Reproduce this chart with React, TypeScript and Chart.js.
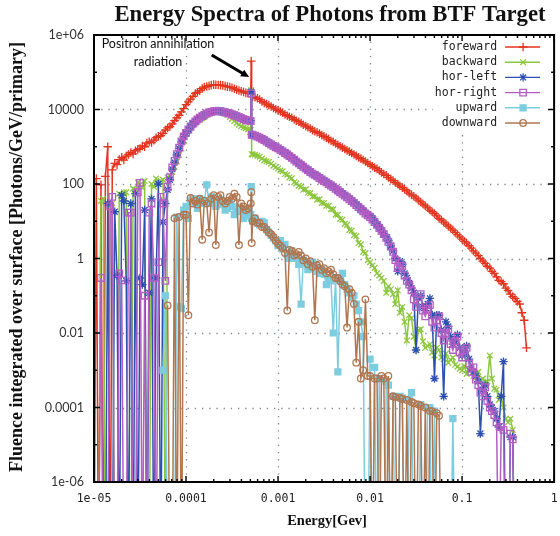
import { useEffect, useRef } from 'react';
import { Chart, registerables } from 'chart.js';
import { drawPoint } from 'chart.js/helpers';

Chart.register(...registerables);

// Energy bins [GeV], 40 per decade, with three narrow bins on the 511 keV annihilation line.
const energyGeV = [
  1.00e-5, 1.06e-5, 1.12e-5, 1.19e-5, 1.26e-5, 1.33e-5, 1.41e-5, 1.50e-5, 1.58e-5, 1.68e-5,
  1.78e-5, 1.88e-5, 2.00e-5, 2.11e-5, 2.24e-5, 2.37e-5, 2.51e-5, 2.66e-5, 2.82e-5, 2.99e-5,
  3.16e-5, 3.35e-5, 3.55e-5, 3.76e-5, 3.98e-5, 4.22e-5, 4.47e-5, 4.73e-5, 5.01e-5, 5.31e-5,
  5.62e-5, 5.96e-5, 6.31e-5, 6.68e-5, 7.08e-5, 7.50e-5, 7.94e-5, 8.41e-5, 8.91e-5, 9.44e-5,
  1.00e-4, 1.06e-4, 1.12e-4, 1.19e-4, 1.26e-4, 1.33e-4, 1.41e-4, 1.50e-4, 1.58e-4, 1.68e-4,
  1.78e-4, 1.88e-4, 2.00e-4, 2.11e-4, 2.24e-4, 2.37e-4, 2.51e-4, 2.66e-4, 2.82e-4, 2.99e-4,
  3.16e-4, 3.35e-4, 3.55e-4, 3.76e-4, 3.98e-4, 4.22e-4, 4.47e-4, 4.73e-4, 5.05e-4, 5.11e-4, 5.17e-4,
  5.31e-4, 5.62e-4, 5.96e-4, 6.31e-4, 6.68e-4, 7.08e-4, 7.50e-4, 7.94e-4, 8.41e-4, 8.91e-4, 9.44e-4,
  1.00e-3, 1.06e-3, 1.12e-3, 1.19e-3, 1.26e-3, 1.33e-3, 1.41e-3, 1.50e-3, 1.58e-3, 1.68e-3,
  1.78e-3, 1.88e-3, 2.00e-3, 2.11e-3, 2.24e-3, 2.37e-3, 2.51e-3, 2.66e-3, 2.82e-3, 2.99e-3,
  3.16e-3, 3.35e-3, 3.55e-3, 3.76e-3, 3.98e-3, 4.22e-3, 4.47e-3, 4.73e-3, 5.01e-3, 5.31e-3,
  5.62e-3, 5.96e-3, 6.31e-3, 6.68e-3, 7.08e-3, 7.50e-3, 7.94e-3, 8.41e-3, 8.91e-3, 9.44e-3,
  1.00e-2, 1.06e-2, 1.12e-2, 1.19e-2, 1.26e-2, 1.33e-2, 1.41e-2, 1.50e-2, 1.58e-2, 1.68e-2,
  1.78e-2, 1.88e-2, 2.00e-2, 2.11e-2, 2.24e-2, 2.37e-2, 2.51e-2, 2.66e-2, 2.82e-2, 2.99e-2,
  3.16e-2, 3.35e-2, 3.55e-2, 3.76e-2, 3.98e-2, 4.22e-2, 4.47e-2, 4.73e-2, 5.01e-2, 5.31e-2,
  5.62e-2, 5.96e-2, 6.31e-2, 6.68e-2, 7.08e-2, 7.50e-2, 7.94e-2, 8.41e-2, 8.91e-2, 9.44e-2,
  1.00e-1, 1.06e-1, 1.12e-1, 1.19e-1, 1.26e-1, 1.33e-1, 1.41e-1, 1.50e-1, 1.58e-1, 1.68e-1,
  1.78e-1, 1.88e-1, 2.00e-1, 2.11e-1, 2.24e-1, 2.37e-1, 2.51e-1, 2.66e-1, 2.82e-1, 2.99e-1,
  3.16e-1, 3.35e-1, 3.55e-1, 3.76e-1, 3.98e-1, 4.22e-1, 4.47e-1, 4.73e-1, 5.01e-1,
];

// Fluence per bin [Photons/GeV/primary]; 0 = empty bin, null = not scored.
const forewardFlux = [
  0, 140, 0, 95, 0, 160, 1000, 0, 240, 360, 330, 450, 520, 440, 560, 620, 700, 640, 780, 850,
  900, 1050, 1000, 1250, 1350, 1300, 1500, 1750, 1900, 2000, 2300, 2800, 3200, 3500, 4100, 5000, 6000, 7000, 8600, 10500,
  13500, 16000, 19000, 22500, 27000, 29000, 32000, 36500, 40000, 41500, 43000, 45000, 46500, 46000, 45500, 45000, 44500, 42500, 41000, 40000,
  38500, 36000, 34000, 32500, 31000, 29500, 28000, 27200, 26500, 200000, 22500,
  22000, 21500, 20000, 18500, 16500, 15000, 14000, 13200, 12000, 11000, 10200,
  9500, 8800, 8200, 7400, 6800, 6400, 6000, 5400, 5000, 4700, 4300, 3900, 3600, 3350, 3100, 2800, 2600, 2450, 2250, 2050,
  1900, 1750, 1600, 1450, 1350, 1220, 1120, 1030, 950, 870, 800, 740, 680, 620, 570, 520, 480, 440, 400, 365,
  330, 300, 275, 255, 230, 205, 185, 170, 150, 135, 123, 110, 100, 88, 80, 72, 65, 57, 51, 47,
  42, 37, 33, 29, 26, 23, 20, 18, 16, 14, 12, 10.8, 9.5, 8.4, 7.4, 6.5, 5.8, 5.0, 4.4, 3.8,
  3.3, 2.9, 2.6, 2.2, 1.9, 1.6, 1.4, 1.2, 1.0, 0.85, 0.74, 0.62, 0.55, 0.45, 0.4, 0.32, 0.26, 0.24, 0.21, 0.16,
  0.14, 0.11, 0.095, 0.085, 0.07, 0.06, 0.035, 0.022, 0.004,
];

const backwardFlux = [
  0, 0, 0, 35, 40, 0, 0, 28, 30, 0, 0, 55, 45, 60, 60, 0, 0, 75, 70, 110,
  95, 80, 120, 0, 0, 100, 85, 140, 110, 120, 130, 0, 150, 170, 210, 290, 400, 600, 900, 1400,
  2200, 2700, 3200, 3800, 4200, 4700, 5200, 5900, 6300, 7200, 7900, 8600, 9100, 9500, 9300, 8900, 8500, 7700, 7100, 6300,
  5600, 4900, 4300, 3900, 3550, 3300, 3150, 2950, 2800, 33000, 630,
  620, 610, 570, 540, 480, 430, 410, 390, 350, 310, 285,
  260, 230, 220, 185, 178, 150, 142, 112, 104, 90, 85, 70, 72, 58, 57, 46, 47, 38, 39, 31,
  31, 26, 26, 21, 21, 15, 15, 11.5, 11, 8.5, 8, 5.8, 5.6, 4.2, 4.0, 2.6, 2.4, 1.5, 1.4, 0.9,
  0.8, 0.65, 0.56, 0.4, 0.35, 0.3, 0.25, 0.12, 0.18, 0.15, 0.11, 0.06, 0.14, 0.035, 0.05, 0.02, 0.0063, 0.03, 0.025, 0.008,
  0.0035, 0.012, 0.0125, 0.006, 0.004, 0.0045, 0.005, 0.003, 0.0025, 0.004, 0.0035, 0.0022, 0.002, 0.0028, 0.0016, 0.0019, 0.0022, 0.0014, 0.00125, 0.0011,
  0.001, 0.0013, 0.0008, 0.0011, 0.00125, 0.0007, 0.00063, 0.0009, 0.0005, 0.0006, 0.0004, 0.0005, 0.0025, 0.0006, 0.00032, 0.0003, 0.00016, 0.0002, 0.0001, 0.00005,
  0.00004, 0.00005, 0.000025, 0, 0, null, null, null, null,
];

const horLeftFlux = [
  0, 0, 0, 0, 0, 0, 30, 0, 0, 18, 0.35, 0, 50, 35, 0.25, 0, 30, 0, 55, 0,
  0.3, 0.2, 20, 0, 0.12, 40, 0, 0.3, 100, 0, 9.5, 30, 70, 130, 250, 380, 600, 900, 1350, 1900,
  2300, 2900, 3450, 4100, 4750, 5400, 6000, 6700, 7300, 7900, 8400, 8700, 9000, 9100, 9100, 9000, 8800, 8500, 8200, 7900,
  7500, 7100, 6700, 6300, 6000, 5600, 5300, 5150, 5000, 30000, 2150,
  2100, 2050, 1900, 1780, 1650, 1530, 1400, 1280, 1170, 1070, 990,
  920, 840, 770, 700, 640, 570, 510, 460, 410, 370, 330, 295, 265, 240, 215, 195, 180, 165, 150, 137,
  125, 114, 104, 94, 85, 77, 70, 63, 56, 51, 46, 41, 36, 32, 28, 25, 22, 19.5, 17, 15.5,
  14, 12, 10, 8.3, 7, 5.8, 4.6, 3.8, 3.0, 2.2, 1.6, 1.0, 0.45, 0.85, 0.7, 0.4, 0.3, 0.22, 0.16, 0.12,
  0.0035, 0.09, 0.1, 0.05, 0.04, 0.06, 0.085, 0.03, 0.0006, 0.03, 0.03, 0.012, 0.0002, 0.02, 0.015, 0.008, 0.005, 0.006, 0.009, 0.004,
  0.0025, 0.003, 0.0045, 0.002, 0.0011, 0.0009, 0.0007, 0.0005, 0.00002, 0.0003, 0.0004, 0.0002, 0.00012, 0.0001, 0.00008, 0.00005, 0.00003, 0.0002, 0.0017, 0,
  0, 0.000016, 0.000016, 0, 0, null, null, null, null,
];

const horRightFlux = [
  0, 0, 0, 0.3, 0, 0, 0, 25, 45, 0, 0, 0.4, 0.26, 0, 0, 17, 17, 0, 0, 60,
  107, 0, 0.1, 0, 17, 30, 0.3, 0, 0.8, 45, 30, 0.25, 85, 150, 280, 420, 630, 950, 1400, 1900,
  2350, 2900, 3500, 4200, 4800, 5400, 6000, 6600, 7200, 7800, 8300, 8600, 8900, 9000, 9000, 8900, 8700, 8400, 8100, 7800,
  7400, 7000, 6600, 6200, 5900, 5500, 5200, 5050, 4900, 27000, 2100,
  2050, 2000, 1870, 1750, 1620, 1500, 1370, 1250, 1150, 1050, 970,
  900, 820, 750, 680, 620, 560, 500, 450, 400, 360, 320, 290, 260, 235, 210, 190, 175, 160, 145, 132,
  120, 110, 100, 91, 82, 74, 67, 60, 54, 49, 44, 39, 35, 31, 27, 24, 21, 18.5, 16, 14.5,
  13, 11, 9.5, 8, 6.5, 5.5, 4.5, 3.6, 2.8, 2.1, 1.5, 0.9, 0.55, 0.75, 0.63, 0.35, 0.25, 0.2, 0.14, 0.08,
  0.05, 0.09, 0.11, 0.04, 0.028, 0.045, 0.056, 0.02, 0.014, 0.022, 0.028, 0.01, 0.0063, 0.01, 0.0125, 0.005, 0.0035, 0.006, 0.008, 0.003,
  0.0022, 0.0035, 0.004, 0.0015, 0.0009, 0.0012, 0.00056, 0.0004, 0.00025, 0.0002, 0.00035, 0.00015, 0.0001, 0.00008, 0.000063, 0.00004, 0, 0.00003, 0.000025, 0,
  0, 0.00002, 0.000014, 0, 0, null, null, null, null,
];

const upwardFlux = [
  null, null, null, null, null, null, null, null, null, null, null, null, null, null, null, null, null, null, null, null,
  null, null, null, null, null, null, null, null, null, null, 0.001, 0.1, 0, 0, 0, 0, 13, 0.05, 0.045, 20,
  25, 12, 35, 40, 30, 22, 40, 30, 35, 95, 30, 45, 35, 25, 28, 38, 32, 20, 22, 30,
  25, 15, 18, 24, 20, 12, 14, 18, 15, 85, 12,
  10, 12, 9, 8, 10, 9, 6, 5, 4.2, 3.5, 3.0,
  2.2, 3.0, 1.8, 2.4, 1.3, 1.0, 1.6, 1.1, 1.0, 0.7, 0.06, 0.9, 0.75, 0.5, 0.55, 0.8, 0.7, 0.45, 0.4, 0.5,
  0.38, 0.2, 0.3, 0.25, 0.01, 0.3, 0.0009, 0.25, 0.4, 0.2, 0.15, 0.12, 0.09, 0.1, 0.06, 0.04, 0.02, 0.008, 0, 0,
  0.002, 0, 0.0012, 0, 0.0006, 0, 0, 0.0005, 0.0004, 0, 0.0002, 0, 0, 0.0002, 0.00018, 0, 0, 0.00016, 0.00025, 0,
  0, 0, 0.00012, 0, 0, 0.0001, 0.0001, 0, 0.00008, 0, 0, 0, 0, 0, 0, 0, 0.00005, 0, null, null,
  null, null, null, null, null, null, null, null, null, null, null, null, null, null, null, null, null, null, null, null,
  null, null, null, null, null, null, null, null, null,
];

const downwardFlux = [
  null, null, null, null, null, null, null, null, null, null, null, null, null, null, null, null, null, null, null, null,
  null, null, null, null, null, null, null, null, null, null, null, null, 0.055, 0, 0, 12, 0, 13, 0, 15,
  15, 0.03, 42, 30, 35, 28, 40, 3.2, 35, 30, 5, 40, 50, 2.3, 45, 50, 35, 30, 35, 45,
  40, 55, 45, 2.3, 30, 25, 20, 22, 30, 60, 2.6,
  10, 12, 9, 9, 7, 7, 6, 5, 4.5, 3.8, 3.0,
  2.5, 2.2, 1.9, 1.4, 0.04, 1.7, 1.6, 1.2, 1.3, 1.5, 1.2, 0.9, 1.0, 0.7, 0.85, 0.6, 0.022, 0.65, 0.7, 0.5,
  0.55, 0.4, 0.45, 0.5, 0.38, 0.3, 0.3, 0.25, 0.2, 0.18, 0.014, 0.15, 0.12, 0.06, 0.0016, 0.02, 0.0006, 0.001, 0.08, 0.0007,
  0.0007, 0, 0.0006, 0.0006, 0, 0.0007, 0.0006, 0, 0.0007, 0, 0.0002, 0.00019, 0, 0.00018, 0.00017, 0, 0.00016, 0, 0.00014, 0.00013,
  0, 0.00012, 0.00011, 0, 0.0001, 0, 0.00008, 0.00008, 0, 0.00007, 0.00006, 0, null, null, null, null, null, null, null, null,
  null, null, null, null, null, null, null, null, null, null, null, null, null, null, null, null, null, null, null, null,
  null, null, null, null, null, null, null, null, null,
];

const xTickValues = [1e-5, 1e-4, 1e-3, 1e-2, 1e-1, 1];
const xTickLabels = ['1e-05', '0.0001', '0.001', '0.01', '0.1', '1'];
const yTickValues = [1e-6, 1e-4, 1e-2, 1, 100, 1e4, 1e6];
const yTickLabels = ['1e-06', '0.0001', '0.01', '1', '100', '10000', '1e+06'];

const chartTitle = 'Energy Spectra of Photons from BTF Target';
const xTitle = 'Energy[Gev]';
const yTitle = 'Fluence integrated over surface [Photons/GeV/primary]';
const noteLines = ['Positron annihilation', 'radiation'];

// Series appearance (gnuplot-like line + point styles)
const seriesStyles = [
  { label: 'foreward', values: forewardFlux, color: '#e3341f', pointStyle: 'cross', radius: 4.3, fill: 'transparent' },
  { label: 'backward', values: backwardFlux, color: '#8cc63f', pointStyle: 'crossRot', radius: 4, fill: 'transparent' },
  { label: 'hor-left', values: horLeftFlux, color: '#2d50b0', pointStyle: 'star', radius: 4.2, fill: 'transparent' },
  { label: 'hor-right', values: horRightFlux, color: '#b25fc4', pointStyle: 'rect', radius: 4.6, fill: 'transparent' },
  { label: 'upward', values: upwardFlux, color: '#7ccde0', pointStyle: 'rect', radius: 4.2, fill: '#7ccde0' },
  { label: 'downward', values: downwardFlux, color: '#b07650', pointStyle: 'circle', radius: 3.3, fill: 'transparent' },
];

// Empty bins are sent below the axis floor so their lines drop out of the frame.
const BELOW_FLOOR = 1e-9;

const toPoints = (values: (number | null)[]) =>
  values.map((v, i) => ({ x: energyGeV[i], y: v === null ? null : v === 0 ? BELOW_FLOOR : v }));

const framePlugin = {
  id: 'gnuplotFrame',
  beforeDatasetsDraw(chart: any) {
    const { ctx, chartArea: a, scales } = chart;
    const xs = scales.x;
    const ys = scales.y;
    ctx.save();
    ctx.strokeStyle = '#7d8796';
    ctx.lineWidth = 1.3;
    ctx.setLineDash([1.3, 5.9]);
    xTickValues.forEach((v) => {
      const px = Math.round(xs.getPixelForValue(v)) + 0.5;
      if (px <= a.left + 2 || px >= a.right - 2) return;
      ctx.beginPath();
      ctx.moveTo(px, a.bottom);
      ctx.lineTo(px, a.top);
      ctx.stroke();
    });
    yTickValues.forEach((v) => {
      const py = Math.round(ys.getPixelForValue(v)) + 0.5;
      if (py <= a.top + 2 || py >= a.bottom - 2) return;
      ctx.beginPath();
      ctx.moveTo(a.left, py);
      ctx.lineTo(a.right, py);
      ctx.stroke();
    });
    ctx.restore();
  },
  afterDatasetsDraw(chart: any) {
    const { ctx, chartArea: a, scales } = chart;
    const xs = scales.x;
    const ys = scales.y;
    ctx.save();

    // key box
    const keyLeft = a.right - 121;
    const keyTop = a.top + 2;
    ctx.fillStyle = '#ffffff';
    ctx.fillRect(keyLeft, keyTop, a.right - 2 - keyLeft, 98);
    ctx.font = '11.5px "DejaVu Sans Mono", monospace';
    ctx.textAlign = 'right';
    ctx.textBaseline = 'middle';
    seriesStyles.forEach((s, i) => {
      const y = a.top + 12 + i * 15.2;
      ctx.fillStyle = '#222';
      ctx.fillText(s.label, a.right - 57, y);
      ctx.strokeStyle = s.color;
      ctx.lineWidth = 1.4;
      ctx.beginPath();
      ctx.moveTo(a.right - 49, y);
      ctx.lineTo(a.right - 14, y);
      ctx.stroke();
      ctx.fillStyle = s.fill;
      ctx.lineWidth = 1.3;
      drawPoint(ctx, { pointStyle: s.pointStyle, radius: s.radius, rotation: 0, borderWidth: 1.3 } as any, a.right - 31, y);
    });

    // frame
    ctx.strokeStyle = '#000';
    ctx.lineWidth = 2;
    ctx.strokeRect(a.left, a.top, a.right - a.left, a.bottom - a.top);

    // tick marks (mirrored, inward)
    ctx.lineWidth = 1.4;
    const major = 6;
    const minor = 3;
    for (let e = -5; e <= 0; e++) {
      for (let m = 1; m <= 9; m++) {
        const v = m * Math.pow(10, e);
        if (v > 1) break;
        const px = xs.getPixelForValue(v);
        const len = m === 1 ? major : minor;
        ctx.beginPath();
        ctx.moveTo(px, a.bottom);
        ctx.lineTo(px, a.bottom - len);
        ctx.moveTo(px, a.top);
        ctx.lineTo(px, a.top + len);
        ctx.stroke();
      }
    }
    for (let e = -6; e <= 6; e++) {
      const py = ys.getPixelForValue(Math.pow(10, e));
      const len = e % 2 === 0 ? major : minor;
      ctx.beginPath();
      ctx.moveTo(a.left, py);
      ctx.lineTo(a.left + len, py);
      ctx.moveTo(a.right, py);
      ctx.lineTo(a.right - len, py);
      ctx.stroke();
    }

    // annihilation-line note with arrow
    ctx.fillStyle = '#111';
    ctx.textAlign = 'center';
    ctx.font = '12.5px Lato, sans-serif';
    ctx.fillText(noteLines[0], a.left + 64, a.top + 9);
    ctx.fillText(noteLines[1], a.left + 64, a.top + 27);
    const tailX = xs.getPixelForValue(1.9e-4);
    const tailY = ys.getPixelForValue(2.9e5);
    const tipX = xs.getPixelForValue(4.85e-4);
    const tipY = ys.getPixelForValue(7.4e4);
    const ang = Math.atan2(tipY - tailY, tipX - tailX);
    const head = 9;
    ctx.strokeStyle = '#000';
    ctx.lineWidth = 3;
    ctx.beginPath();
    ctx.moveTo(tailX, tailY);
    ctx.lineTo(tipX - Math.cos(ang) * head * 0.8, tipY - Math.sin(ang) * head * 0.8);
    ctx.stroke();
    ctx.fillStyle = '#000';
    ctx.beginPath();
    ctx.moveTo(tipX, tipY);
    ctx.lineTo(tipX - head * Math.cos(ang - 0.45), tipY - head * Math.sin(ang - 0.45));
    ctx.lineTo(tipX - head * Math.cos(ang + 0.45), tipY - head * Math.sin(ang + 0.45));
    ctx.closePath();
    ctx.fill();
    ctx.restore();
  },
  afterDraw(chart: any) {
    const { ctx, chartArea: a } = chart;
    ctx.save();
    ctx.fillStyle = '#111';
    ctx.textAlign = 'center';
    ctx.textBaseline = 'middle';
    ctx.font = 'bold 22.7px "Liberation Serif", serif';
    ctx.fillText(chartTitle, 330, 15);
    ctx.font = 'bold 14.5px "Liberation Serif", serif';
    ctx.fillText(xTitle, (a.left + a.right) / 2 + 3, a.bottom + 39);
    ctx.translate(17, 257);
    ctx.rotate(-Math.PI / 2);
    ctx.font = 'bold 18px "Liberation Serif", serif';
    ctx.fillText(yTitle, 0, 0);
    ctx.restore();
  },
};

export default function App() {
  const canvasRef = useRef<HTMLCanvasElement>(null);

  useEffect(() => {
    const canvas = canvasRef.current;
    if (!canvas) return;
    const datasets = seriesStyles.map((s, i) => ({
      label: s.label,
      data: toPoints(s.values),
      borderColor: s.color,
      backgroundColor: s.fill,
      borderWidth: 1.5,
      pointStyle: s.pointStyle,
      pointRadius: (c: any) => (c.raw && c.raw.y === BELOW_FLOOR ? 0 : s.radius),
      pointBorderColor: s.color,
      pointBackgroundColor: s.fill,
      pointBorderWidth: 1.3,
      tension: 0,
      spanGaps: false,
      clip: 1,
      order: seriesStyles.length - i,
    }));

    const chart = new Chart(canvas, {
      type: 'line',
      data: { datasets },
      options: {
        animation: false,
        responsive: false,
        events: [],
        layout: { padding: { top: 35, right: 2, left: 0, bottom: 0 } },
        plugins: { legend: { display: false }, tooltip: { enabled: false } },
        scales: {
          x: {
            type: 'logarithmic',
            min: 1e-5,
            max: 1,
            grid: { display: false, drawTicks: false },
            border: { display: false },
            afterBuildTicks: (scale: any) => {
              scale.ticks = xTickValues.map((v) => ({ value: v }));
            },
            afterFit: (scale: any) => {
              scale.height = 54;
              scale.paddingLeft = 0;
              scale.paddingRight = 0;
            },
            ticks: {
              autoSkip: false,
              maxRotation: 0,
              padding: 10,
              color: '#222',
              font: { family: '"DejaVu Sans Mono", monospace', size: 11.5 },
              callback: (_v: any, i: number) => xTickLabels[i],
            },
          },
          y: {
            type: 'logarithmic',
            min: 1e-6,
            max: 1e6,
            grid: { display: false, drawTicks: false },
            border: { display: false },
            afterBuildTicks: (scale: any) => {
              scale.ticks = yTickValues.map((v) => ({ value: v }));
            },
            afterFit: (scale: any) => {
              scale.width = 94;
              scale.paddingTop = 0;
              scale.paddingBottom = 0;
            },
            ticks: {
              autoSkip: false,
              padding: 10,
              color: '#333',
              font: { family: 'Lato, sans-serif', size: 12.5 },
              callback: (_v: any, i: number) => yTickLabels[i],
            },
          },
        },
      },
      plugins: [framePlugin],
    } as any);

    return () => chart.destroy();
  }, []);

  return (
    <div style={{ position: 'absolute', left: 0, top: 0, width: 560, height: 536, background: '#ffffff' }}>
      <canvas ref={canvasRef} width={560} height={536} style={{ display: 'block', width: 560, height: 536 }} />
    </div>
  );
}
